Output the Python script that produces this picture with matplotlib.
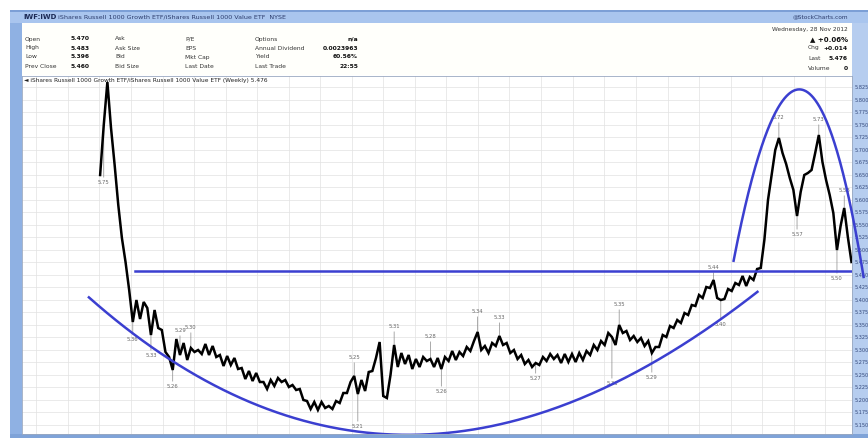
import numpy as np
import pandas as pd
import matplotlib
matplotlib.use('Agg')
import matplotlib.pyplot as plt
import matplotlib.dates as mdates
from matplotlib.patches import Rectangle

# ratio closes, one point every 3 weeks
dates = pd.date_range('2001-01-05', periods=208, freq='21D')
closes = [
    5.650, 5.750, 5.836, 5.744, 5.670, 5.590, 5.524, 5.476, 5.420, 5.356,
    5.400, 5.362, 5.396, 5.384, 5.330, 5.380, 5.344, 5.340, 5.296, 5.286,
    5.260, 5.322, 5.290, 5.314, 5.280, 5.304, 5.296, 5.300, 5.292, 5.312,
    5.290, 5.308, 5.286, 5.290, 5.268, 5.288, 5.270, 5.284, 5.262, 5.264,
    5.242, 5.258, 5.238, 5.254, 5.236, 5.236, 5.222, 5.240, 5.228, 5.244,
    5.236, 5.240, 5.226, 5.230, 5.220, 5.222, 5.200, 5.198, 5.182, 5.196,
    5.180, 5.196, 5.184, 5.188, 5.182, 5.198, 5.194, 5.214, 5.214, 5.236,
    5.248, 5.212, 5.240, 5.218, 5.256, 5.258, 5.284, 5.316, 5.208, 5.204,
    5.250, 5.310, 5.266, 5.294, 5.272, 5.290, 5.262, 5.282, 5.266, 5.286,
    5.278, 5.282, 5.266, 5.284, 5.262, 5.286, 5.278, 5.298, 5.280, 5.296,
    5.288, 5.306, 5.298, 5.318, 5.336, 5.300, 5.308, 5.294, 5.314, 5.308,
    5.328, 5.310, 5.314, 5.294, 5.300, 5.282, 5.290, 5.272, 5.280, 5.266,
    5.274, 5.270, 5.286, 5.278, 5.292, 5.282, 5.290, 5.274, 5.292, 5.276,
    5.292, 5.276, 5.294, 5.280, 5.298, 5.290, 5.310, 5.300, 5.318, 5.310,
    5.334, 5.326, 5.310, 5.350, 5.334, 5.338, 5.320, 5.328, 5.316, 5.324,
    5.308, 5.318, 5.294, 5.306, 5.306, 5.330, 5.326, 5.348, 5.344, 5.360,
    5.354, 5.374, 5.370, 5.390, 5.388, 5.410, 5.404, 5.426, 5.424, 5.440,
    5.404, 5.400, 5.402, 5.422, 5.418, 5.434, 5.430, 5.448, 5.428, 5.446,
    5.440, 5.462, 5.464, 5.520, 5.600, 5.650, 5.700, 5.724, 5.694, 5.672,
    5.644, 5.620, 5.568, 5.616, 5.650, 5.654, 5.660, 5.694, 5.730, 5.676,
    5.640, 5.610, 5.574, 5.500, 5.548, 5.584, 5.526, 5.476,
]

# peak / trough labels: index into closes, side, leader length (px)
label_idx = [1, 9, 14, 22, 25, 20, 70, 71, 81, 91, 94, 104, 110, 120,
             141, 143, 152, 169, 171, 187, 198, 192, 205, 203]
label_side = ['below', 'below', 'below', 'above', 'above', 'below', 'above', 'below',
              'above', 'above', 'below', 'above', 'above', 'below', 'below', 'above',
              'below', 'above', 'below', 'above', 'above', 'below', 'above', 'below']
label_len = [55, 15, 18, 22, 18, 14, 16, 30, 16, 20, 20, 18, 16, 13,
             44, 18, 22, 10, 22, 18, 13, 16, 15, 26]

# hand-drawn trend lines
cup_dates = pd.to_datetime(['2000-11-01', '2002-02-10', '2003-01-22', '2004-03-01',
                            '2005-03-28', '2005-10-05', '2006-04-15', '2007-05-08',
                            '2008-05-29', '2009-06-18', '2010-07-08', '2011-06-05'])
cup_prices = [5.406, 5.280, 5.214, 5.164, 5.136, 5.128, 5.130, 5.154,
              5.194, 5.246, 5.340, 5.414]
dome_dates = pd.to_datetime(['2011-01-18', '2011-03-17', '2011-05-14', '2011-08-03',
                             '2011-10-17', '2012-01-23', '2012-04-08', '2012-06-24',
                             '2012-09-12', '2012-11-09', '2013-01-07', '2013-02-08'])
dome_prices = [5.476, 5.580, 5.654, 5.734, 5.794, 5.824, 5.814, 5.766,
               5.686, 5.614, 5.520, 5.440]
neck_start = pd.Timestamp('2001-07-24')
neck_price = 5.458

W, H = 868, 438
fig = plt.figure(figsize=(W / 100, H / 100), dpi=100)
fig.patch.set_facecolor('white')


def fx(px):
    return px / W


def fy(py):
    return 1 - py / H


def box(x0, y0, x1, y1, color):
    fig.patches.append(Rectangle((fx(x0), fy(y1)), (x1 - x0) / W, (y1 - y0) / H,
                                 transform=fig.transFigure, facecolor=color,
                                 edgecolor='none', zorder=-5))


# frame pieces
box(10, 10, 22, 438, '#8fb1e3')
box(10, 10, 868, 23, '#a9c5ee')
box(10, 10, 868, 12, '#7c9fd6')
box(22, 23, 852, 75, '#fffffb')
box(852, 23, 868, 438, '#b6cdef')
box(10, 434, 868, 438, '#7fa3d8')

# title bar
fig.text(fx(23), fy(17), 'IWF:IWD', fontsize=5, fontweight='bold', color='#1c2a55', va='center')
fig.text(fx(58), fy(17), 'iShares Russell 1000 Growth ETF/iShares Russell 1000 Value ETF  NYSE',
         fontsize=4.6, color='#2c3c6c', va='center')
fig.text(fx(848), fy(17), '@StockCharts.com', fontsize=4.2, color='#2c3c6c', va='center', ha='right')

# header block
row_y = [39, 48, 57, 66]
col_a = ['Open', 'High', 'Low', 'Prev Close']
col_a_val = ['5.470', '5.483', '5.396', '5.460']
col_b = ['Ask', 'Ask Size', 'Bid', 'Bid Size']
col_c = ['P/E', 'EPS', 'Mkt Cap', 'Last Date']
col_d = ['Options', 'Annual Dividend', 'Yield', 'Last Trade']
col_d_val = ['n/a', '0.0023963', '60.56%', '22:55']
for k, y in enumerate(row_y):
    fig.text(fx(25), fy(y), col_a[k], fontsize=4.3, color='#333', va='center')
    fig.text(fx(90), fy(y), col_a_val[k], fontsize=4.3, color='#111', va='center', ha='right',
             fontweight='bold')
    fig.text(fx(115), fy(y), col_b[k], fontsize=4.3, color='#333', va='center')
    fig.text(fx(185), fy(y), col_c[k], fontsize=4.3, color='#333', va='center')
    fig.text(fx(255), fy(y), col_d[k], fontsize=4.3, color='#333', va='center')
    fig.text(fx(358), fy(y), col_d_val[k], fontsize=4.3, color='#111', va='center', ha='right',
             fontweight='bold')

fig.text(fx(848), fy(29), 'Wednesday, 28 Nov 2012', fontsize=4.2, color='#333', va='center', ha='right')
fig.text(fx(848), fy(39), '\u25b2 +0.06%', fontsize=5, color='#111', va='center', ha='right',
         fontweight='bold')
right_lab = ['Chg', 'Last', 'Volume']
right_val = ['+0.014', '5.476', '0']
for k, y in enumerate([48, 58, 68]):
    fig.text(fx(808), fy(y), right_lab[k], fontsize=4.3, color='#333', va='center')
    fig.text(fx(848), fy(y), right_val[k], fontsize=4.3, color='#111', va='center', ha='right',
             fontweight='bold')

# chart
ax = fig.add_axes([fx(22), fy(434), 830 / W, 358 / H])
ax.set_facecolor('white')
ax.plot(dates, closes, color='black', lw=1.8, solid_joinstyle='miter', zorder=3)

for i, side, ln in zip(label_idx, label_side, label_len):
    off = ln if side == 'above' else -ln
    ax.annotate(f'{closes[i]:.2f}', xy=(dates[i], closes[i]), xytext=(0, off),
                textcoords='offset pixels', ha='center',
                va='bottom' if side == 'above' else 'top',
                fontsize=3.8, color='#666',
                arrowprops=dict(arrowstyle='-', color='#888', lw=0.5, shrinkA=0, shrinkB=0),
                zorder=2)

blue = '#3b3fd0'
cx = mdates.date2num(cup_dates)
cfit = np.polyfit(cx - cx[0], cup_prices, 4)
cxx = np.linspace(cx[0], cx[-1], 300)
ax.plot(mdates.num2date(cxx), np.polyval(cfit, cxx - cx[0]), color=blue, lw=1.8, zorder=4)

dx = mdates.date2num(dome_dates)
dfit = np.polyfit(dx - dx[0], dome_prices, 4)
dxx = np.linspace(dx[0], dx[-1], 300)
ax.plot(mdates.num2date(dxx), np.polyval(dfit, dxx - dx[0]), color=blue, lw=1.8, zorder=4,
        clip_on=False)

x_left = pd.Timestamp('2001-01-05') - pd.Timedelta(days=452)
x_right = dates[-1] + pd.Timedelta(days=3)
ax.plot([neck_start, x_right], [neck_price, neck_price], color=blue, lw=1.8, zorder=4)

ax.set_xlim(x_left, x_right)
ax.set_ylim(5.132, 5.848)
ax.xaxis.set_major_locator(mdates.MonthLocator(bymonth=[1, 7]))
ax.set_yticks(np.arange(5.15, 5.85, 0.025))
ax.grid(color='#e2e2e2', lw=0.5)
ax.tick_params(axis='x', length=0, labelbottom=False)
ax.yaxis.tick_right()
ax.tick_params(axis='y', length=0, labelsize=3.6, labelcolor='#34487a', pad=2)
ax.yaxis.set_major_formatter(plt.FuncFormatter(lambda v, p: f'{v:.3f}'))
for s in ax.spines.values():
    s.set_color('#9aa8c0')
    s.set_linewidth(0.6)

ax.text(0.003, 0.995, '\u25c4 iShares Russell 1000 Growth ETF/iShares Russell 1000 Value ETF (Weekly) 5.476',
        transform=ax.transAxes, fontsize=4.2, color='#222', va='top', ha='left')

fig.savefig('out.png', dpi=100)
